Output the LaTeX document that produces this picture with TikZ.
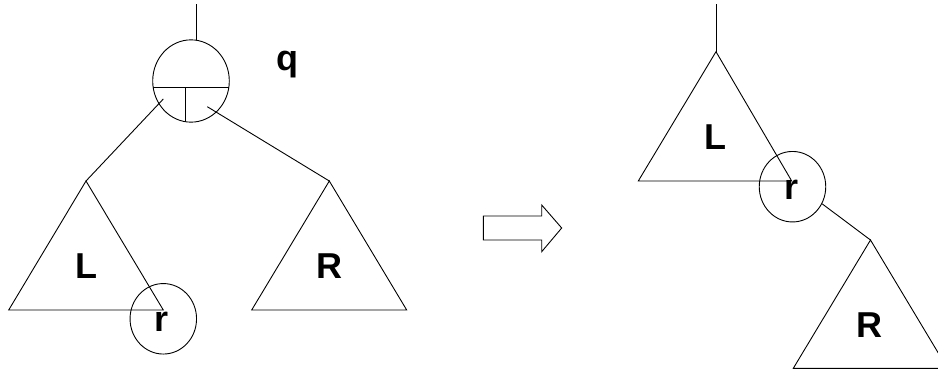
\documentclass[tikz,border=0pt]{standalone}
\usepackage{fontspec}
\setmainfont{Liberation Sans}
\usetikzlibrary{shapes.geometric}
\begin{document}
\begin{tikzpicture}[x=1pt, y=-1pt, line width=0.9pt, line join=miter,
  lbl/.style={font=\fontsize{36}{36}\selectfont\bfseries, inner sep=0pt},
  rnode/.style={draw, ellipse, inner sep=0pt, minimum width=66.5pt, minimum height=70.5pt},
  tree/.style={draw}]
\useasboundingbox (0,0) rectangle (938,372);
\clip (0,0) rectangle (938,372);

% ---------- before: node q with subtrees L and R ----------
\node[draw, ellipse, inner sep=0pt, minimum width=76.6pt, minimum height=82.3pt] (q) at (191,81) {};
\begin{scope}
  \clip (191,81) ellipse [x radius=38.3, y radius=41.15];
  \draw (140,87.3) -- (240,87.3);
  \draw (185.7,87.3) -- (185.7,130);
\end{scope}
\coordinate (qroot) at (196.7,4);
\coordinate (qtop) at (196.7,40.3);
\coordinate (qL) at (163.3,99);
\coordinate (qR) at (207.3,106.7);
\node[lbl] (qlabel) at (287,65) {q};

\coordinate (Ltop) at (86,181);
\coordinate (Lbl) at (8.7,310);
\coordinate (Lbr) at (163.3,310);
\coordinate (Rtop) at (329.3,181);
\coordinate (Rbl) at (251.7,310);
\coordinate (Rbr) at (406.7,310);

\draw (qroot) -- (qtop);
\draw (qL) -- (Ltop);
\draw (qR) -- (Rtop);
\draw[tree] (Ltop) -- (Lbl) -- (Lbr) -- cycle;
\draw[tree] (Rtop) -- (Rbl) -- (Rbr) -- cycle;
\node[lbl] (L1) at (86,266) {L};
\node[lbl] (R1) at (329.3,266) {R};
\node[rnode] (r1) at (163.3,318.8) {};
\node[lbl] (r1label) at (161.7,321.7) {r};

% ---------- transformation arrow ----------
\draw (483.3,216) -- (541.7,216) -- (541.7,205) -- (561.7,228)
      -- (541.7,251.7) -- (541.7,240) -- (483.3,240) -- cycle;

% ---------- after: r becomes root of L, R hangs below r ----------
\coordinate (root2) at (716,4);
\coordinate (L2top) at (716,51.7);
\coordinate (L2bl) at (638.3,181);
\coordinate (L2br) at (791.7,181);
\coordinate (R2top) at (870.5,240);
\coordinate (R2bl) at (793.3,368.3);
\coordinate (R2br) at (947.5,368.3);

\draw (root2) -- (L2top);
\draw[tree] (L2top) -- (L2bl) -- (L2br) -- cycle;
\node[lbl] (L2) at (715.7,136.7) {L};
\node[rnode] (r2) at (792.5,186.7) {};
\node[lbl] (r2label) at (791.7,190) {r};
\draw (r2.-30) -- (R2top);
\draw[tree] (R2top) -- (R2bl) -- (R2br) -- cycle;
\node[lbl] (R2) at (869.3,325) {R};
\end{tikzpicture}
\end{document}
